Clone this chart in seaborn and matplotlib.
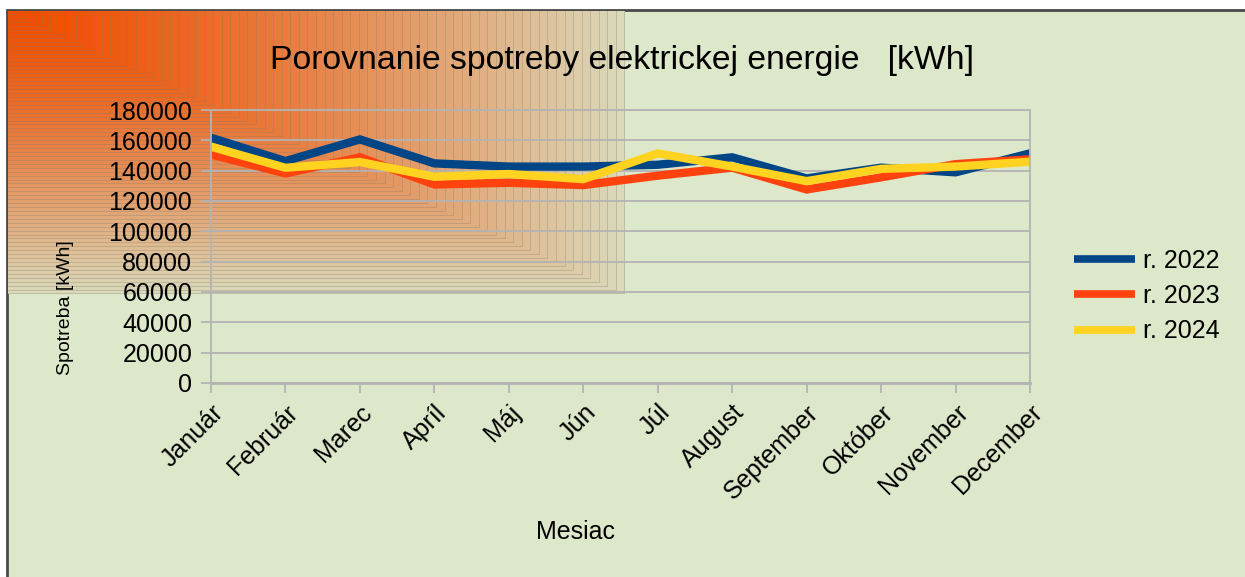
import matplotlib
matplotlib.use("Agg")
import matplotlib.pyplot as plt
import seaborn as sns
import pandas as pd
import numpy as np
from matplotlib.patches import Rectangle
from matplotlib.lines import Line2D

# ---- data ----
months = ["Január", "Február", "Marec", "Apríl", "Máj", "Jún",
          "Júl", "August", "September", "Október", "November", "December"]
r2022 = [161700, 146300, 160600, 144800, 142700, 142700,
         143900, 148800, 134900, 142000, 138900, 151400]
r2023 = [150700, 138200, 148800, 130900, 132000, 130500,
         136700, 142000, 127600, 135600, 144300, 147500]
r2024 = [155800, 141900, 145700, 136000, 137800, 134400,
         151400, 142700, 133100, 141200, 142700, 145900]
series_names = ["r. 2022", "r. 2023", "r. 2024"]
series_colors = ["#004586", "#ff420e", "#ffd320"]
yticks = list(range(0, 180001, 20000))

df = pd.DataFrame({
    "Mesiac": months * 3,
    "Spotreba": r2022 + r2023 + r2024,
    "Rok": [s for s in series_names for _ in months],
})

sns.set_style("white")
plt.rcParams["font.family"] = ["Liberation Sans", "DejaVu Sans"]
plt.rcParams["text.color"] = "black"
plt.rcParams["xtick.labelcolor"] = "black"
plt.rcParams["ytick.labelcolor"] = "black"
plt.rcParams["lines.solid_joinstyle"] = "miter"
plt.rcParams["lines.solid_capstyle"] = "butt"

W, H = 1245, 577
fig = plt.figure(figsize=(W / 100, H / 100), dpi=100, facecolor="white")

# green chart wall with dark frame
fig.patches.append(Rectangle((7 / W, -0.01), 1.0, 1 - 10 / H + 0.01,
                             transform=fig.transFigure, facecolor="#dde7c9",
                             edgecolor="#4a4a4a", linewidth=2, zorder=0))

# orange rectangular gradient in the top-left corner
gx0, gx1, gy0, gy1 = 8, 625, 11, 294
gw, gh = gx1 - gx0, gy1 - gy0
xs = np.arange(gw + 1) / gw
ys = np.arange(gh + 1) / gh
t = np.maximum(xs[None, :], ys[:, None])
nsteps = 72
k = np.floor(t * nsteps)
c0 = np.array([240, 78, 0]) / 255
c1 = np.array([218, 220, 190]) / 255
f = (k / nsteps) ** 1.35
col = c0 + (c1 - c0) * f[..., None]
edge = np.zeros_like(k, dtype=bool)
edge[:-1, :] |= k[:-1, :] != k[1:, :]
edge[:, :-1] |= k[:, :-1] != k[:, 1:]
edge[-1, :] = True
edge[:, -1] = True
dark = col * 0.7 + np.array([125, 125, 110]) / 255 * 0.3
img = np.where(edge[..., None], dark, col)[:-1, :-1]
gax = fig.add_axes([gx0 / W, 1 - gy1 / H, gw / W, gh / H], zorder=0.5)
gax.imshow(img, aspect="auto", interpolation="nearest")
gax.axis("off")

# main plot
ax = fig.add_axes([211 / W, 1 - 383 / H, 819 / W, 273 / H], zorder=1)
ax.set_facecolor("none")
sns.lineplot(data=df, x="Mesiac", y="Spotreba", hue="Rok", hue_order=series_names,
             palette=series_colors, linewidth=6, sort=False, ax=ax, legend=False)

ax.set_xlim(0, len(months) - 1)
ax.set_ylim(0, 180000)
ax.set_yticks(yticks)
ax.set_yticklabels([str(v) for v in yticks])
ax.set_xticks(range(len(months)))
ax.set_xticklabels(months, rotation=45, ha="right", rotation_mode="anchor")
ax.grid(axis="y", color="#b3b3b3", linewidth=1.3)
ax.grid(axis="x", visible=False)
for s in ax.spines.values():
    s.set_color("#b3b3b3")
    s.set_linewidth(1.3)
ax.spines["bottom"].set_linewidth(2)
ax.tick_params(axis="both", which="major", length=7.5, width=1.3, color="#b3b3b3",
               labelsize=18, direction="out", left=True, bottom=True)
ax.tick_params(axis="y", pad=6)
ax.tick_params(axis="x", pad=5)
ax.set_xlabel("")
ax.set_ylabel("")

fig.text(575 / W, 1 - 532 / H, "Mesiac", fontsize=18, ha="center", va="center")
fig.text(65 / W, 1 - 308 / H, "Spotreba [kWh]", fontsize=14, ha="center",
         va="center", rotation=90)
fig.text(622 / W, 1 - 60 / H, "Porovnanie spotreby elektrickej energie   [kWh]",
         fontsize=24.3, ha="center", va="center")

handles = [Line2D([], [], color=c, linewidth=5.5) for c in series_colors]
fig.legend(handles, series_names, loc="center left",
           bbox_to_anchor=(1074 / W, 1 - 296 / H), frameon=False, fontsize=18,
           handlelength=2.45, handletextpad=0.32, labelspacing=0.45,
           borderpad=0, borderaxespad=0)

fig.savefig("out.png", dpi=100, facecolor="white")
